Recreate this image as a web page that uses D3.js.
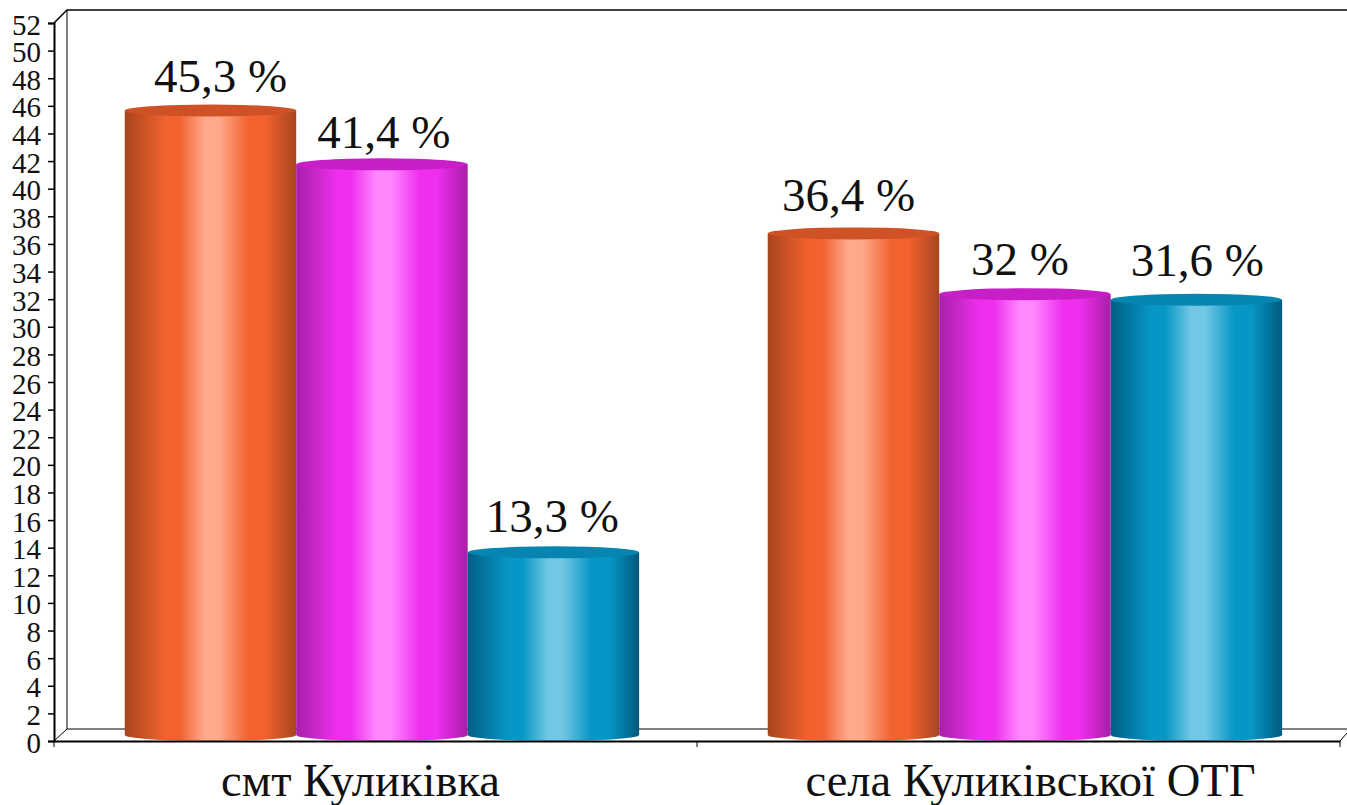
<!DOCTYPE html>
<html>
<head>
<meta charset="utf-8">
<script src="https://cdn.jsdelivr.net/npm/d3@7"></script>
<style>
  html, body { margin: 0; padding: 0; background: #fff; overflow: hidden; }
  svg { display: block; }
  text { font-family: "Liberation Serif", serif; fill: #111; }
</style>
</head>
<body>
<svg id="chart" width="1347" height="805"></svg>
<script>
const categories = ['смт Куликівка', 'села Куликівської ОТГ'];
const seriesNames = ['a', 'b', 'c'];
const valuesA = [45.3, 36.4];
const valuesB = [41.4, 32];
const valuesC = [13.3, 31.6];
const valueLabels = [['45,3 %', '41,4 %', '13,3 %'], ['36,4 %', '32 %', '31,6 %']];
const yTicks = d3.range(0, 53, 2);

// base, light, dark tones for each cylinder
const palette = {
  a: { edge: '#a9441c', mid: '#f2622f', light: '#ffa98c', top: '#cf5226', far: '#a5451f' },
  b: { edge: '#a91fa8', mid: '#ee2fee', light: '#ff88ff', top: '#c81ec8', far: '#a81ea8' },
  c: { edge: '#005f85', mid: '#0797c6', light: '#72c8e4', top: '#0585b0', far: '#005a7c' },
};

// hand placed offsets of the labels, the source chart has them uneven
const labelNudge = [[[10, -19], [2, -16], [-1, -20]], [[-5, -22], [-5, -19], [1, -24]]];
const categoryNudge = [-15, 12];

const svg = d3.select('#chart');
const plotLeft = 54, plotRight = 1340, plotBottom = 741, plotTop = 23;
const depthX = 13, depthY = 12;
const barLift = 5; // cylinder tops sit a bit above the axis value, as drawn in 3D

const x0 = d3.scaleBand().domain(categories).range([plotLeft, plotRight]);
const x1 = d3.scaleBand().domain(seriesNames).range([0, x0.bandwidth()])
  .paddingInner(0).paddingOuter(0.375).align(0.55);
const y = d3.scaleLinear().domain([0, 52]).range([plotBottom, plotTop]);

// cylinder gradients
const defs = svg.append('defs');
seriesNames.forEach((s) => {
  const p = palette[s];
  const g = defs.append('linearGradient').attr('id', `grad-${s}`);
  [[0, p.edge], [0.24, p.mid], [0.32, p.mid], [0.47, p.light], [0.55, p.light], [0.72, p.mid], [0.82, p.mid], [1, p.far]]
    .forEach(([o, c]) => g.append('stop').attr('offset', o).attr('stop-color', c));
});

// chart walls
svg.append('path')
  .attr('d', `M${plotLeft},${plotTop} L${plotLeft + depthX},${plotTop - depthY - 1} H1347`)
  .attr('fill', 'none').attr('stroke', '#000').attr('stroke-width', 1.5);
svg.append('line')
  .attr('x1', plotLeft + depthX).attr('x2', plotLeft + depthX)
  .attr('y1', plotTop - depthY - 1).attr('y2', plotBottom - depthY)
  .attr('stroke', '#000').attr('stroke-width', 1);
svg.append('path')
  .attr('d', `M${plotLeft},${plotBottom} L${plotLeft + depthX},${plotBottom - depthY} H1347`)
  .attr('fill', 'none').attr('stroke', '#000').attr('stroke-width', 1);
svg.append('line')
  .attr('x1', plotRight).attr('x2', 1347)
  .attr('y1', plotBottom).attr('y2', plotBottom - 8)
  .attr('stroke', '#000').attr('stroke-width', 1);

// bars
const rows = categories.map((c, i) => [valuesA[i], valuesB[i], valuesC[i]].map((v, j) => ({
  cat: c, series: seriesNames[j], value: v, label: valueLabels[i][j], nudge: labelNudge[i][j],
})));
const group = svg.append('g').selectAll('g').data(rows).join('g')
  .attr('transform', (d) => `translate(${x0(d[0].cat)},0)`);

const ry = 6;
const cyl = group.selectAll('g').data((d) => d).join('g');
cyl.append('path')
  .attr('fill', (d) => `url(#grad-${d.series})`)
  .attr('d', (d) => {
    const l = x1(d.series), w = x1.bandwidth(), t = y(d.value) - barLift;
    return `M${l},${t} V${plotBottom - ry} A${w / 2},${ry} 0 0 0 ${l + w},${plotBottom - ry} V${t} Z`;
  });
cyl.append('ellipse')
  .attr('cx', (d) => x1(d.series) + x1.bandwidth() / 2)
  .attr('cy', (d) => y(d.value) - barLift)
  .attr('rx', x1.bandwidth() / 2)
  .attr('ry', ry)
  .attr('fill', (d) => palette[d.series].top);
cyl.append('text')
  .attr('x', (d) => x1(d.series) + x1.bandwidth() / 2 + d.nudge[0])
  .attr('y', (d) => y(d.value) - barLift + d.nudge[1])
  .attr('text-anchor', 'middle')
  .style('font-size', '47px')
  .text((d) => d.label);

// axes
const yAxis = d3.axisLeft(y).tickValues(yTicks).tickSize(6).tickPadding(7);
const yG = svg.append('g').attr('transform', `translate(${plotLeft},0)`).call(yAxis);
yG.selectAll('text').style('font-size', '29px').attr('dy', '0.38em');
yG.selectAll('line').attr('stroke', '#000').attr('stroke-width', 1.5);
yG.select('.domain').attr('stroke', '#000').attr('stroke-width', 2);

const xAxis = d3.axisBottom(x0).tickSize(0).tickPadding(22);
const xG = svg.append('g').attr('transform', `translate(0,${plotBottom})`).call(xAxis);
xG.selectAll('text')
  .style('font-size', '46.5px')
  .attr('dx', (d, i) => categoryNudge[i]);
xG.select('.domain').attr('stroke', '#000').attr('stroke-width', 2);
[plotLeft, (plotLeft + plotRight) / 2, plotRight].forEach((tx) => {
  xG.append('line').attr('x1', tx).attr('x2', tx).attr('y1', 0).attr('y2', 6)
    .attr('stroke', '#000').attr('stroke-width', 1);
});
</script>
</body>
</html>
